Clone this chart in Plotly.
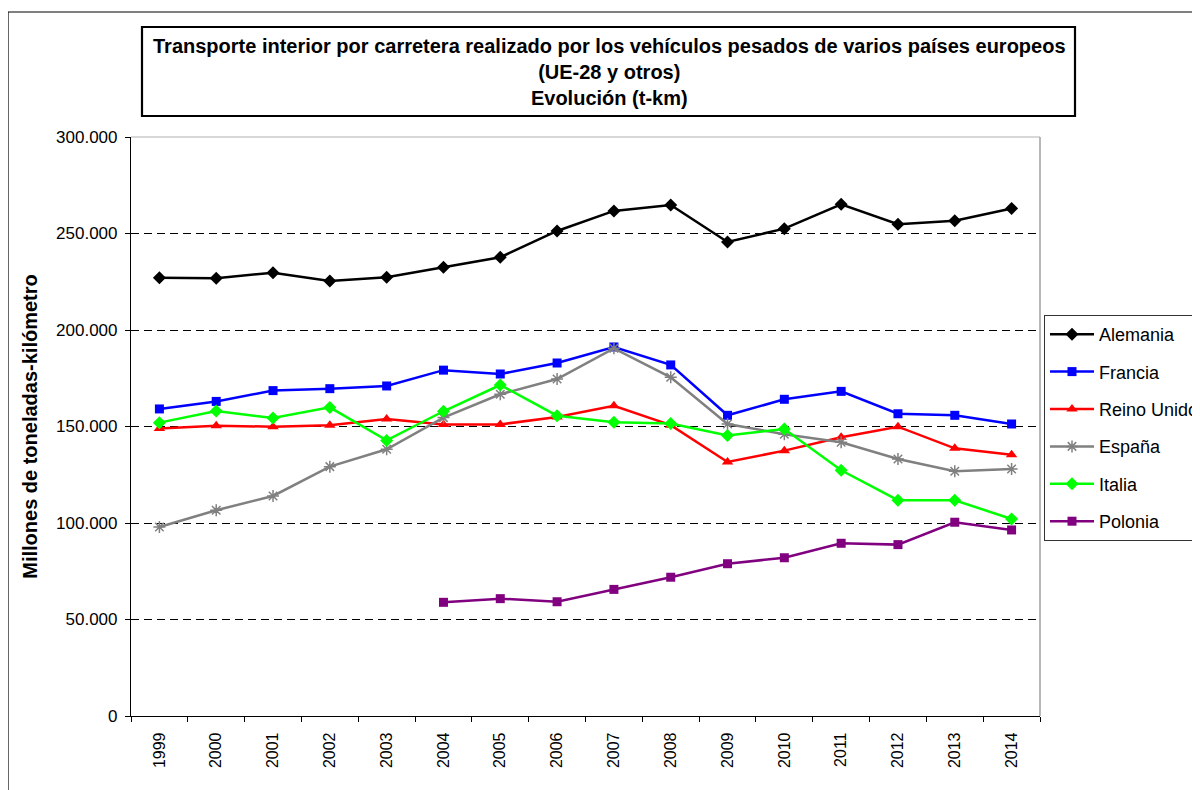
import plotly.graph_objects as go

years = [str(y) for y in range(1999, 2015)]

alemania = [227100, 226800, 229700, 225400, 227300, 232500, 237700, 251300,
            261700, 264800, 245600, 252500, 265100, 254800, 256600, 263000]
francia = [159100, 163000, 168600, 169600, 171000, 179200, 177200, 182900,
           191200, 181900, 155800, 164100, 168200, 156600, 155800, 151300]
reino_unido = [148900, 150400, 149900, 150700, 153900, 151100, 151100, 154900,
               160700, 150700, 131600, 137500, 144400, 149900, 138700, 135400]
espana = [97900, 106600, 114000, 129200, 138200, 154600, 166700, 174600,
          190500, 175500, 151300, 146000, 141800, 133200, 126800, 128000]
italia = [152000, 158000, 154400, 159900, 142800, 157900, 171500, 155600,
          152200, 151600, 145400, 148700, 127300, 111800, 111800, 102100]
polonia = [None, None, None, None, None, 58900, 60800, 59200,
           65600, 71900, 78900, 82000, 89500, 88800, 100400, 96400]

y_ticks = [0, 50000, 100000, 150000, 200000, 250000, 300000]

series = [
    ("Alemania", alemania, "#000000", "diamond", 10),
    ("Francia", francia, "#0000FF", "square", 9),
    ("Reino Unido", reino_unido, "#FF0000", "triangle-up", 10),
    ("España", espana, "#808080", "asterisk-open", 10),
    ("Italia", italia, "#00FF00", "diamond", 10),
    ("Polonia", polonia, "#800080", "square", 9),
]

FONT = "Liberation Sans, Arial, sans-serif"

fig = go.Figure()
for name, vals, color, symbol, size in series:
    marker = dict(symbol=symbol, size=size, color=color)
    if symbol == "asterisk-open":
        marker["line"] = dict(color=color, width=1.5)
    fig.add_trace(go.Scatter(
        x=years, y=vals, name=name, legendgroup=name,
        mode="lines+markers",
        line=dict(color=color, width=2.5),
        marker=marker,
    ))

# page offset of the figure inside the browser page (body margin)
OFF = 8
W, H = 1200, 790
L = 131 - OFF
R = W - (1040 - OFF)
T = 137 - OFF
B = H - (716 - OFF)
pw, ph = W - L - R, H - T - B

def px_x(x):
    return (x - OFF - L) / pw

def px_y(y):
    return (H - B - (y - OFF)) / ph

shapes = [
    # outer frame
    dict(type="rect", xref="paper", yref="paper",
         x0=px_x(8), x1=px_x(1260), y0=px_y(850), y1=px_y(12),
         line=dict(color="black", width=1.2), layer="below"),
    # title box
    dict(type="rect", xref="paper", yref="paper",
         x0=px_x(142), x1=px_x(1075), y0=px_y(116), y1=px_y(27),
         line=dict(color="black", width=2.2)),
    # plot area right and top border (gray)
    dict(type="line", xref="paper", yref="paper",
         x0=1, x1=1, y0=0, y1=1, line=dict(color="#A0A0A0", width=1.5)),
    dict(type="line", xref="paper", yref="paper",
         x0=0, x1=1, y0=1, y1=1, line=dict(color="#B0B0B0", width=1), layer="below"),
]

annotations = [
    dict(text="<b>Transporte interior por carretera realizado por los vehículos pesados de varios países europeos"
              "<br>(UE-28 y otros)<br>Evolución (t-km)</b>",
         xref="paper", yref="paper", x=px_x(609), y=px_y(72),
         xanchor="center", yanchor="middle", showarrow=False,
         font=dict(family=FONT, size=20, color="black")),
]

fig.update_layout(
    width=W, height=H,
    margin=dict(l=L, r=R, t=T, b=B, autoexpand=False),
    paper_bgcolor="white", plot_bgcolor="white",
    font=dict(family=FONT, size=16, color="black"),
    separators=",.",
    xaxis=dict(
        type="category", categoryorder="array", categoryarray=years,
        range=[-0.5, 15.5],
        showgrid=False, zeroline=False,
        showline=True, linecolor="black", linewidth=1.2,
        ticks="outside", ticklen=5, tickcolor="black", tickwidth=1,
        tickson="boundaries",
        tickangle=-90, ticklabelstandoff=9,
        tickfont=dict(family=FONT, size=16, color="black"),
    ),
    yaxis=dict(
        range=[0, 300000], tickvals=y_ticks, tickformat=",d",
        showgrid=True, gridcolor="black", gridwidth=1, griddash="8px,5px",
        zeroline=False,
        showline=True, linecolor="black", linewidth=1.2,
        ticks="outside", ticklen=5, tickcolor="black", tickwidth=1,
        ticklabelstandoff=4,
        tickfont=dict(family=FONT, size=17, color="black"),
        title=dict(text="<b>Millones de toneladas-kilómetro</b>",
                   font=dict(family=FONT, size=20, color="black"), standoff=13),
    ),
    legend=dict(
        x=px_x(1044), y=px_y(315), xanchor="left", yanchor="top",
        bordercolor="#333333", borderwidth=1, bgcolor="white",
        font=dict(family=FONT, size=18, color="black"),
        tracegroupgap=11, itemwidth=44,
    ),
    shapes=shapes,
    annotations=annotations,
)

fig.write_html("out.html")
